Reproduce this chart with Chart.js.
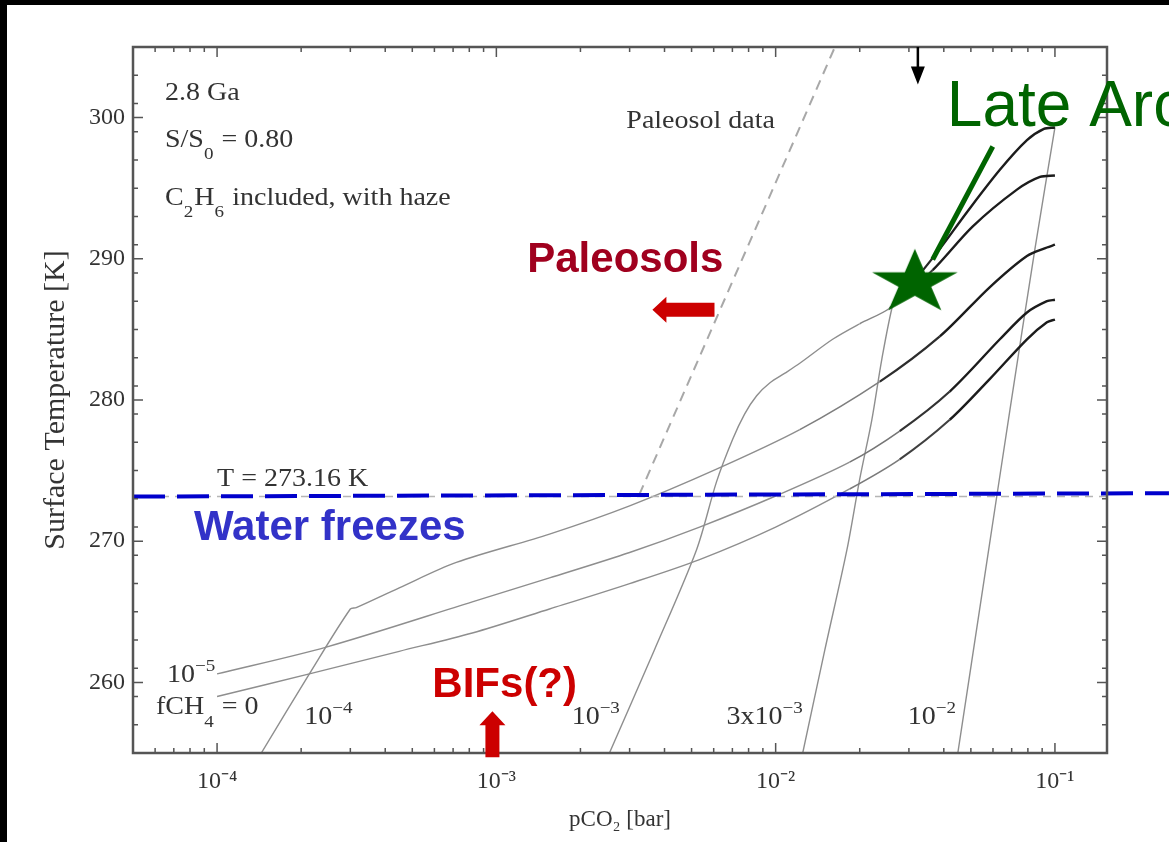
<!DOCTYPE html>
<html>
<head>
<meta charset="utf-8">
<script src="https://cdn.jsdelivr.net/npm/chart.js@4.4.1/dist/chart.umd.min.js"></script>
<style>
html,body{margin:0;padding:0;background:#fff;overflow:hidden}
canvas{display:block}
</style>
</head>
<body>
<canvas id="c" width="1169" height="842"></canvas>
<script>
// ================= DATA =================
// Surface temperature [K] vs pCO2 [bar], one curve per CH4 mixing ratio
const pco2_f0   = [1.0e-4, 2.14e-4, 4.49e-4, 8.20e-4, 1.55e-3, 3.0e-3, 5.34e-3, 1.0e-2, 1.84e-2, 2.78e-2, 4.20e-2, 5.85e-2, 7.94e-2, 9.36e-2, 0.1];
const temp_f0   = [259.0, 260.6, 262.2, 263.5, 265.2, 267.0, 268.7, 271.0, 273.7, 275.8, 278.6, 281.5, 284.3, 285.5, 285.7];

const pco2_f1e5 = [1.0e-4, 2.46e-4, 8.20e-4, 1.55e-3, 3.0e-3, 5.34e-3, 1.0e-2, 1.84e-2, 2.78e-2, 4.20e-2, 6.35e-2, 7.94e-2, 9.36e-2, 0.1];
const temp_f1e5 = [260.6, 262.5, 265.7, 267.4, 269.2, 271.0, 273.2, 275.6, 277.8, 280.6, 284.3, 286.2, 287.0, 287.1];

const pco2_f1e4 = [1.44e-4, 2.14e-4, 3.0e-4, 3.15e-4, 4.49e-4, 7.19e-4, 1.55e-3, 3.0e-3, 6.14e-3, 1.22e-2, 2.36e-2, 3.87e-2, 5.85e-2, 7.94e-2, 9.36e-2, 0.1];
const temp_f1e4 = [255.0, 260.6, 265.2, 265.3, 266.7, 268.5, 270.5, 272.5, 275.1, 277.9, 281.3, 284.5, 288.0, 290.2, 290.8, 291.0];

const pco2_f1e3 = [2.54e-3, 3.68e-3, 5.21e-3, 6.14e-3, 7.01e-3, 7.74e-3, 8.55e-3, 9.52e-3, 1.08e-2, 1.22e-2, 1.60e-2, 2.0e-2, 2.56e-2, 3.65e-2, 5.08e-2, 7.31e-2, 8.84e-2, 0.1];
const temp_f1e3 = [255.0, 262.3, 269.4, 274.2, 277.2, 279.0, 280.3, 281.2, 281.9, 282.6, 284.3, 285.4, 286.5, 289.2, 292.3, 294.9, 295.8, 295.9];

const pco2_f3e3 = [1.25e-2, 1.50e-2, 1.80e-2, 2.0e-2, 2.21e-2, 2.40e-2, 2.63e-2, 2.72e-2, 2.90e-2, 3.15e-2, 3.87e-2, 4.84e-2, 6.35e-2, 7.94e-2, 9.13e-2, 0.1];
const temp_f3e3 = [255.0, 262.3, 269.4, 274.4, 278.6, 282.9, 286.8, 287.1, 287.8, 288.5, 290.7, 293.3, 296.3, 298.4, 299.2, 299.3];

const pco2_f1e2 = [4.49e-2, 5.61e-2, 6.90e-2, 8.48e-2, 0.1];
const temp_f1e2 = [255.0, 267.6, 279.3, 290.7, 299.3];

// Paleosol data limit (dashed)
const pco2_paleosol = [3.25e-3, 1.63e-2];
const temp_paleosol = [273.3, 305.0];

// Freezing point line T = 273.16 K
const pco2_freeze = [5.0e-5, 0.256];
const temp_freeze = [273.16, 273.4];

// Late Archean marker (star) and its pointer
const pco2_star = [3.15e-2];
const temp_star = [288.3];
const pco2_pointer = [3.65e-2, 5.99e-2];
const temp_pointer = [289.95, 297.95];

// Axes
const xRange = [5.0e-5, 0.1536];
const yRange = [255, 305];
const xMajorTicks = [1e-4, 1e-3, 1e-2, 1e-1];
const xTickLabels = ['10\u207B\u2074', '10\u207B\u00B3', '10\u207B\u00B2', '10\u207B\u00B9'];
const xMinorMultipliers = [2, 3, 4, 5, 6, 7, 8, 9];
const xDecades = [1e-5, 1e-4, 1e-3, 1e-2, 1e-1];
const yMajorTicks = [260, 270, 280, 290, 300];
const yTickLabels = ['260', '270', '280', '290', '300'];
const yMinorStep = 2;

// ================= STYLE =================
const SERIF = '"Liberation Serif", "Times New Roman", serif';
const SANS = '"Liberation Sans", Arial, sans-serif';
const LIGHT = [142, 142, 142];
const DARK = [28, 28, 28];
const AXIS = '#555555';
const TEXT = '#333333';

// darkening range (in pCO2) of each curve's thick black part
const curves = [
  {name: 'fCH4 = 0',     x: pco2_f0,   y: temp_f0,   dark: [2.0e-2, 4.5e-2]},
  {name: 'fCH4 = 1e-5',  x: pco2_f1e5, y: temp_f1e5, dark: [2.0e-2, 4.0e-2]},
  {name: 'fCH4 = 1e-4',  x: pco2_f1e4, y: temp_f1e4, dark: [1.6e-2, 3.5e-2]},
  {name: 'fCH4 = 1e-3',  x: pco2_f1e3, y: temp_f1e3, dark: [2.2e-2, 3.6e-2]},
  {name: 'fCH4 = 3e-3',  x: pco2_f3e3, y: temp_f3e3, dark: [2.8e-2, 3.6e-2]},
  {name: 'fCH4 = 1e-2',  x: pco2_f1e2, y: temp_f1e2, dark: [1e9, 2e9]}
];

const pts = (xs, ys) => xs.map((v, i) => ({x: v, y: ys[i]}));

function darkness(xv, range) {
  const t = (Math.log10(xv) - Math.log10(range[0])) / (Math.log10(range[1]) - Math.log10(range[0]));
  return Math.max(0, Math.min(1, t));
}
function mixColor(t) {
  const c = LIGHT.map((l, i) => Math.round(l + (DARK[i] - l) * t));
  return 'rgb(' + c.join(',') + ')';
}

// star image used as point style
function makeStar(rx, ry, color) {
  const c = document.createElement('canvas');
  c.width = Math.ceil(rx * 2 + 2);
  c.height = Math.ceil(ry * 2 + 2);
  const g = c.getContext('2d');
  const cx = c.width / 2, cy = c.height / 2;
  g.beginPath();
  for (let k = 0; k < 10; k++) {
    const ang = -Math.PI / 2 + k * Math.PI / 5;
    const r = (k % 2 === 0) ? 1 : 0.382;
    const px = cx + Math.cos(ang) * rx * r;
    const py = cy + Math.sin(ang) * ry * r;
    if (k === 0) g.moveTo(px, py); else g.lineTo(px, py);
  }
  g.closePath();
  g.fillStyle = color;
  g.fill();
  return c;
}
const starImg = makeStar(45, 34, '#006400');

const datasets = [];
curves.forEach(cv => {
  datasets.push({
    label: cv.name,
    data: pts(cv.x, cv.y),
    borderColor: mixColor(0),
    borderWidth: 1.4,
    pointRadius: 0,
    tension: 0.3,
    fill: false,
    order: 5,
    segment: {
      borderColor: ctx => mixColor(darkness((ctx.p0.parsed.x + ctx.p1.parsed.x) / 2, cv.dark)),
      borderWidth: ctx => 1.4 + 1.0 * darkness((ctx.p0.parsed.x + ctx.p1.parsed.x) / 2, cv.dark)
    }
  });
});
datasets.push({
  label: 'Paleosol data',
  data: pts(pco2_paleosol, temp_paleosol),
  borderColor: '#a8a8a8', borderWidth: 2, borderDash: [10, 7],
  pointRadius: 0, order: 6
});
datasets.push({
  label: 'T = 273.16 K (original)',
  data: pts([xRange[0], xRange[1]], [273.16, 273.16]),
  borderColor: '#b5b5b5', borderWidth: 1.5, borderDash: [8, 6],
  pointRadius: 0, order: 4
});
datasets.push({
  label: 'Water freezes',
  data: pts(pco2_freeze, temp_freeze),
  borderColor: '#0000cc', borderWidth: 4, borderDash: [32, 12],
  borderCapStyle: 'butt',
  pointRadius: 0, order: 2, clip: false
});
datasets.push({
  label: 'Late Archean pointer',
  data: pts(pco2_pointer, temp_pointer),
  borderColor: '#006400', borderWidth: 5, borderCapStyle: 'butt',
  pointRadius: 0, order: 1, clip: false
});
datasets.push({
  label: 'Late Archean',
  data: pts(pco2_star, temp_star),
  showLine: false,
  pointStyle: starImg,
  pointRadius: 10,
  order: 0, clip: false
});

// Text notes placed in data coordinates (x = pCO2, y = T)
const notes = [
  {t: '2.8 Ga',                      x: 6.51e-5, y: 301.27, font: 'serif'},
  {t: 'S/S_{0} = 0.80',              x: 6.51e-5, y: 297.95, font: 'serif'},
  {t: 'C_{2}H_{6} included, with haze', x: 6.51e-5, y: 293.84, font: 'serif'},
  {t: 'Paleosol data',               x: 2.92e-3, y: 299.29, font: 'serif'},
  {t: 'T = 273.16 K',                x: 1.0e-4,  y: 273.88, font: 'serif'},
  {t: '10^{\u22125}',                x: 6.62e-5, y: 260.0,  font: 'serif'},
  {t: 'fCH_{4} = 0',                 x: 6.04e-5, y: 257.73, font: 'serif'},
  {t: '10^{\u22124}',                x: 2.05e-4, y: 257.03, font: 'serif'},
  {t: '10^{\u22123}',                x: 1.86e-3, y: 257.03, font: 'serif'},
  {t: '3x10^{\u22123}',              x: 6.67e-3, y: 257.03, font: 'serif'},
  {t: '10^{\u22122}',                x: 2.97e-2, y: 257.03, font: 'serif'},
  {t: 'Paleosols',     x: 1.29e-3, y: 289.1,  font: 'bold 42px ' + SANS, color: '#a0001e'},
  {t: 'BIFs(?)',       x: 5.90e-4, y: 259.0,  font: 'bold 42px ' + SANS, color: '#cc0000'},
  {t: 'Water freezes', x: 8.27e-5, y: 270.12, font: 'bold 42px ' + SANS, color: '#3232c8'},
  {t: 'Late Archean',  x: 4.10e-2, y: 299.4,  font: '64px ' + SANS, color: '#006400'}
];

// Arrows: from tail to tip, in data coordinates
const arrows = [
  {from: [6.04e-3, 286.4], to: [3.62e-3, 286.4], body: 14, headW: 26, headL: 14, color: '#cc0000'},
  {from: [9.68e-4, 254.7], to: [9.68e-4, 257.95], body: 14, headW: 26, headL: 14, color: '#cc0000'},
  {from: [3.23e-2, 305.0], to: [3.23e-2, 302.34], body: 2.5, headW: 14, headL: 18, color: '#000000'}
];

// ================= DRAW HELPERS =================
function parseRich(s) {
  const parts = [];
  const re = /(_|\^)\{([^}]*)\}/g;
  let last = 0, m;
  while ((m = re.exec(s))) {
    if (m.index > last) parts.push({t: s.slice(last, m.index)});
    parts.push({t: m[2], sub: m[1] === '_', sup: m[1] === '^'});
    last = re.lastIndex;
  }
  if (last < s.length) parts.push({t: s.slice(last)});
  return parts;
}
function drawRich(ctx, s, x, y, size, family, color, stretch) {
  ctx.save();
  ctx.translate(x, y);
  ctx.scale(stretch, 1);
  ctx.fillStyle = color;
  ctx.textBaseline = 'alphabetic';
  ctx.textAlign = 'left';
  let cx = 0;
  for (const p of parseRich(s)) {
    const fs = (p.sub || p.sup) ? size * 0.68 : size;
    ctx.font = fs + 'px ' + family;
    const dy = p.sub ? size * 0.5 : (p.sup ? -size * 0.45 : 0);
    ctx.fillText(p.t, cx, dy);
    cx += ctx.measureText(p.t).width + ((p.sub || p.sup) ? 1 : 0);
  }
  ctx.restore();
}
function drawArrow(ctx, x0, y0, x1, y1, body, headW, headL, color) {
  const dx = x1 - x0, dy = y1 - y0;
  const len = Math.hypot(dx, dy);
  ctx.save();
  ctx.translate(x0, y0);
  ctx.rotate(Math.atan2(dy, dx));
  ctx.fillStyle = color;
  ctx.beginPath();
  ctx.moveTo(0, -body / 2);
  ctx.lineTo(len - headL, -body / 2);
  ctx.lineTo(len - headL, -headW / 2);
  ctx.lineTo(len, 0);
  ctx.lineTo(len - headL, headW / 2);
  ctx.lineTo(len - headL, body / 2);
  ctx.lineTo(0, body / 2);
  ctx.closePath();
  ctx.fill();
  ctx.restore();
}

const decorPlugin = {
  id: 'decor',
  beforeDraw(chart) {
    const ctx = chart.ctx;
    ctx.save();
    ctx.fillStyle = '#ffffff';
    ctx.fillRect(0, 0, chart.width, chart.height);
    ctx.fillStyle = '#000000';
    ctx.fillRect(0, 0, chart.width, 5);
    ctx.fillRect(0, 0, 7, chart.height);
    ctx.restore();
  },
  afterDatasetsDraw(chart) {
    const ctx = chart.ctx, a = chart.chartArea;
    const xs = chart.scales.x, ys = chart.scales.y;
    ctx.save();
    ctx.strokeStyle = AXIS;
    ctx.lineWidth = 1.5;
    ctx.beginPath();
    const xMinor = [];
    xDecades.forEach(d => xMinorMultipliers.forEach(m => xMinor.push(d * m)));
    const tickX = (v, len) => {
      const px = xs.getPixelForValue(v);
      if (px < a.left + 1 || px > a.right - 1) return;
      ctx.moveTo(px, a.bottom); ctx.lineTo(px, a.bottom - len);
      ctx.moveTo(px, a.top); ctx.lineTo(px, a.top + len);
    };
    xMinor.forEach(v => tickX(v, 5));
    xMajorTicks.forEach(v => tickX(v, 10));
    const tickY = (v, len) => {
      const py = ys.getPixelForValue(v);
      if (py < a.top + 1 || py > a.bottom - 1) return;
      ctx.moveTo(a.left, py); ctx.lineTo(a.left + len, py);
      ctx.moveTo(a.right, py); ctx.lineTo(a.right - len, py);
    };
    for (let v = yRange[0]; v <= yRange[1]; v += yMinorStep) {
      if (!yMajorTicks.includes(v)) tickY(v, 5);
    }
    yMajorTicks.forEach(v => tickY(v, 10));
    ctx.stroke();
    ctx.lineWidth = 2.5;
    ctx.strokeRect(a.left, a.top, a.right - a.left, a.bottom - a.top);
    ctx.restore();
  },
  afterDraw(chart) {
    const ctx = chart.ctx;
    const xs = chart.scales.x, ys = chart.scales.y;
    notes.forEach(n => {
      const px = xs.getPixelForValue(n.x), py = ys.getPixelForValue(n.y);
      if (n.font === 'serif') {
        drawRich(ctx, n.t, px, py, 25, SERIF, TEXT, 1.12);
      } else {
        ctx.save();
        ctx.font = n.font;
        ctx.fillStyle = n.color;
        ctx.textBaseline = 'alphabetic';
        ctx.textAlign = 'left';
        ctx.fillText(n.t, px, py);
        ctx.restore();
      }
    });
    arrows.forEach(ar => {
      drawArrow(ctx,
        xs.getPixelForValue(ar.from[0]), ys.getPixelForValue(ar.from[1]),
        xs.getPixelForValue(ar.to[0]), ys.getPixelForValue(ar.to[1]),
        ar.body, ar.headW, ar.headL, ar.color);
    });
  }
};

new Chart(document.getElementById('c'), {
  type: 'line',
  data: {datasets},
  options: {
    responsive: false,
    animation: false,
    devicePixelRatio: 1,
    events: [],
    layout: {padding: {top: 47, right: 62, left: 0, bottom: 0}},
    plugins: {legend: {display: false}, tooltip: {enabled: false}},
    scales: {
      x: {
        type: 'logarithmic',
        min: xRange[0], max: xRange[1],
        grid: {display: false, drawTicks: false},
        border: {display: false},
        afterBuildTicks: s => { s.ticks = xMajorTicks.map(v => ({value: v})); },
        afterFit: s => { s.height = 89; },
        ticks: {
          autoSkip: false, maxRotation: 0, padding: 14, color: TEXT,
          font: {family: SERIF, size: 24},
          callback: (v, i) => xTickLabels[i]
        },
        title: {display: true, text: 'pCO\u2082 [bar]', color: TEXT,
                font: {family: SERIF, size: 23}, padding: {top: 0, bottom: 8}}
      },
      y: {
        type: 'linear',
        min: yRange[0], max: yRange[1],
        grid: {display: false, drawTicks: false},
        border: {display: false},
        afterBuildTicks: s => { s.ticks = yMajorTicks.map(v => ({value: v})); },
        afterFit: s => { s.width = 133; },
        ticks: {
          padding: 8, color: TEXT,
          font: {family: SERIF, size: 24},
          callback: (v, i) => yTickLabels[i]
        },
        title: {display: true, text: 'Surface Temperature [K]', color: TEXT,
                font: {family: SERIF, size: 30}, padding: {top: 38, bottom: 0}}
      }
    }
  },
  plugins: [decorPlugin]
});
</script>
</body>
</html>
